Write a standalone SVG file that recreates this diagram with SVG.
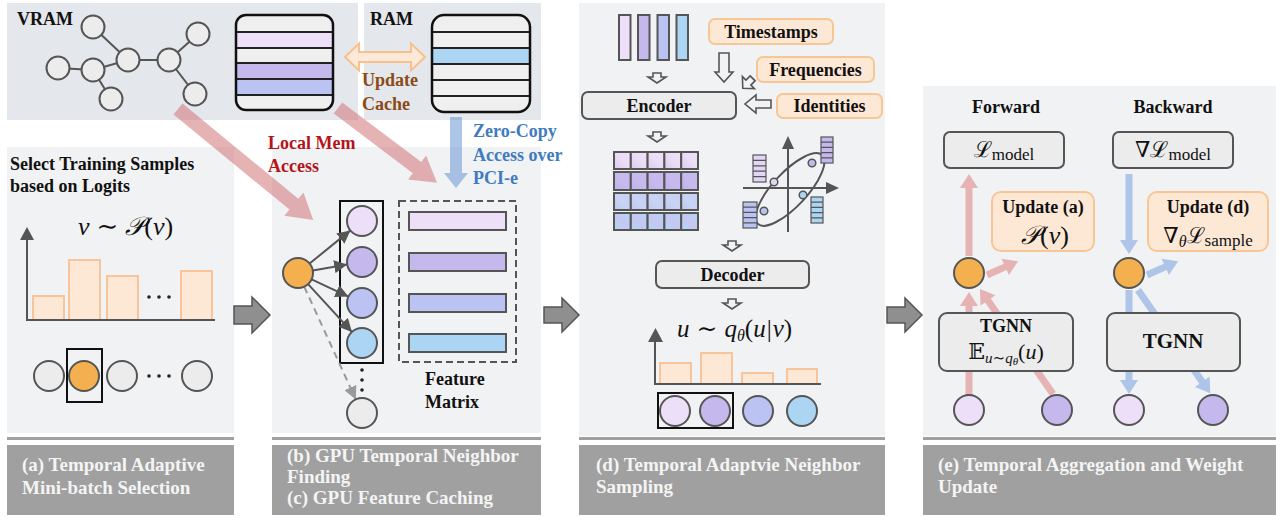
<svg xmlns="http://www.w3.org/2000/svg" width="1281" height="521" viewBox="0 0 1281 521">
<defs>
<style>
.t{font-family:"Liberation Serif","Times New Roman",serif;font-weight:bold;font-size:18px;fill:#111}
.cap{font-family:"Liberation Serif","Times New Roman",serif;font-weight:bold;font-size:19px;fill:#f4f4f4}
.m{font-family:"Liberation Serif","DejaVu Serif",serif;font-style:italic;font-size:22px;fill:#111}
.mr{font-family:"Liberation Serif","DejaVu Serif",serif;font-size:22px;fill:#111}
.nd{stroke:#555;stroke-width:2}
.box{fill:#ececec;stroke:#555;stroke-width:2}
.ob{fill:#fde8d6;stroke:#f8c594;stroke-width:2}
.bar{fill:#fde8d6;stroke:#f9c49a;stroke-width:2}
.pk{fill:#d06d71;fill-opacity:.52}
.bl{fill:#5b8bd0;fill-opacity:.5}
.pks{fill:#e6b3b5}
.bls{fill:#aec4e8}
.ha{fill:#f1f2f4;stroke:#555;stroke-width:1.6;stroke-linejoin:miter}
.panel{fill:#f1f2f4}
.mem{fill:#e4e7ec}
.capbox{fill:#a0a0a0}
.ax{stroke:#555;stroke-width:2;fill:none}
.axh{fill:#555}
.c1{fill:#ecdff7}.c2{fill:#c5b8ec}.c3{fill:#bac3f2}.c4{fill:#acd5f3}.cg{fill:#ececec}.co{fill:#f4b04f}
.ln{stroke:#222;stroke-width:2}
.vec{stroke:#555;stroke-width:1.2}
.dot{fill:#222}
</style>
<marker id="ah" viewBox="0 0 12 12" refX="12" refY="6" markerWidth="13" markerHeight="13" markerUnits="userSpaceOnUse" orient="auto"><path d="M0,0 L12,6 L0,12 Z" fill="#555"/></marker>
<marker id="ahg" viewBox="0 0 12 12" refX="12" refY="6" markerWidth="13" markerHeight="13" markerUnits="userSpaceOnUse" orient="auto"><path d="M0,0 L12,6 L0,12 Z" fill="#9a9a9a"/></marker>
<linearGradient id="g1" x1="0" y1="1" x2="1" y2="0"><stop offset="0" stop-color="#dccaf0"/><stop offset="0.5" stop-color="#eadcf6"/><stop offset="1" stop-color="#eee2f8"/></linearGradient>
<linearGradient id="g2" x1="0" y1="1" x2="1" y2="0"><stop offset="0" stop-color="#bdb3ec"/><stop offset="0.5" stop-color="#c8baee"/><stop offset="1" stop-color="#c5b9ec"/></linearGradient>
<linearGradient id="g3" x1="0" y1="1" x2="1" y2="0"><stop offset="0" stop-color="#bccaf1"/><stop offset="0.5" stop-color="#c9d3f4"/><stop offset="1" stop-color="#c3cdf2"/></linearGradient>
<linearGradient id="g4" x1="0" y1="1" x2="1" y2="0"><stop offset="0" stop-color="#acd8f5"/><stop offset="0.5" stop-color="#c6c6f2"/><stop offset="1" stop-color="#b2d6f5"/></linearGradient>
</defs>
<rect width="1281" height="521" fill="#fff"/>

<!-- panels -->
<g id="panels">
<rect class="mem" x="7" y="3" width="351" height="117"/>
<rect class="mem" x="364" y="3" width="177" height="117"/>
<rect class="panel" x="7" y="147" width="227" height="286"/>
<rect class="panel" x="272" y="147" width="269" height="286"/>
<rect class="panel" x="579" y="3" width="306" height="433"/>
<rect class="panel" x="923" y="86" width="353" height="350"/>
<rect class="capbox" x="7" y="437" width="227" height="3"/>
<rect class="capbox" x="272" y="437" width="269" height="3"/>
<rect class="capbox" x="579" y="437" width="306" height="3"/>
<rect class="capbox" x="923" y="437" width="353" height="3"/>
</g>

<!-- captions -->
<g id="caption-a"><rect class="capbox" x="7" y="445" width="227" height="70"/>
<text class="cap" x="22" y="471">(a) Temporal Adaptive</text>
<text class="cap" x="22" y="494">Mini-batch Selection</text></g>
<g id="caption-bc"><rect class="capbox" x="272" y="445" width="269" height="70"/>
<text class="cap" x="287" y="462">(b) GPU Temporal Neighbor</text>
<text class="cap" x="287" y="483">Finding</text>
<text class="cap" x="287" y="504">(c) GPU Feature Caching</text></g>
<g id="caption-d"><rect class="capbox" x="579" y="445" width="306" height="70"/>
<text class="cap" x="596" y="471">(d) Temporal Adaptvie Neighbor</text>
<text class="cap" x="596" y="493">Sampling</text></g>
<g id="caption-e"><rect class="capbox" x="923" y="445" width="353" height="70"/>
<text class="cap" x="938" y="471">(e) Temporal Aggregation and Weight</text>
<text class="cap" x="938" y="493">Update</text></g>

<!-- VRAM / RAM -->
<g id="vram">
<text class="t" x="17" y="25">VRAM</text>
<g stroke="#555" stroke-width="2">
<line x1="58" y1="68" x2="93" y2="70"/>
<line x1="93" y1="70" x2="111" y2="99"/>
<line x1="93" y1="70" x2="128" y2="60"/>
<line x1="93" y1="27" x2="128" y2="60"/>
<line x1="128" y1="60" x2="169" y2="60"/>
<line x1="169" y1="60" x2="198" y2="34"/>
<line x1="169" y1="60" x2="195" y2="94"/>
</g>
<g class="nd cg">
<circle cx="93" cy="27" r="11.5"/><circle cx="58" cy="68" r="11.5"/><circle cx="93" cy="70" r="11.5"/>
<circle cx="111" cy="99" r="11.5"/><circle cx="128" cy="60" r="11.5"/><circle cx="169" cy="60" r="11.5"/>
<circle cx="198" cy="34" r="11.5"/><circle cx="195" cy="94" r="11.5"/>
</g>
</g>

<!-- connectors -->
<g id="connectors">
<path class="pk" d="M0,-7 H150 V-15 L175,0 L150,15 V7 H0 Z" transform="translate(178,109) rotate(39.4)"/>
<path class="pk" d="M0,-7 H99 V-15 L124,0 L99,15 V7 H0 Z" transform="translate(338,108) rotate(37)"/>
<path class="bl" d="M450,117 H462 V173 H468 L456,188 L444,173 H450 Z"/>
<path d="M345,57 L359,43.5 V52 H411 V43.5 L425,57 L411,70.5 V62 H359 V70.5 Z" fill="#fde9d8" stroke="#f7c08d" stroke-width="2"/>
<path d="M234,306 H252 V297 L270,315 L252,333 V324 H234 Z" fill="#8f8f8f" stroke="#555" stroke-width="1.5"/>
<path d="M544,307 H562 V298 L579,315 L562,332 V323 H544 Z" fill="#8f8f8f" stroke="#555" stroke-width="1.5"/>
<path d="M887,307 H905 V298 L922,315 L905,332 V323 H887 Z" fill="#8f8f8f" stroke="#555" stroke-width="1.5"/>
</g>

<g id="vram-cache">
<rect x="236" y="15" width="97" height="95" rx="10" fill="#efefef"/>
<rect x="237" y="32" width="95" height="16" class="c1"/>
<rect x="237" y="63" width="95" height="16" class="c2"/>
<rect x="237" y="79" width="95" height="16" class="c3"/>
<g class="ln"><line x1="236" y1="32" x2="333" y2="32"/><line x1="236" y1="48" x2="333" y2="48"/><line x1="236" y1="63" x2="333" y2="63"/><line x1="236" y1="79" x2="333" y2="79"/><line x1="236" y1="95" x2="333" y2="95"/></g>
<rect x="236" y="15" width="97" height="95" rx="10" fill="none" stroke="#111" stroke-width="2.5"/>
</g>

<g id="ram">
<text class="t" x="370" y="25">RAM</text>
<rect x="432" y="15" width="98" height="97" rx="12" fill="#efefef"/>
<rect x="433" y="48" width="96" height="16" class="c4"/>
<g class="ln"><line x1="432" y1="32" x2="530" y2="32"/><line x1="432" y1="48" x2="530" y2="48"/><line x1="432" y1="64" x2="530" y2="64"/><line x1="432" y1="80" x2="530" y2="80"/><line x1="432" y1="96" x2="530" y2="96"/></g>
<rect x="432" y="15" width="98" height="97" rx="12" fill="none" stroke="#111" stroke-width="2.5"/>
</g>

<g id="labels">
<text class="t" x="362" y="86" style="fill:#8a4b14">Update</text>
<text class="t" x="362" y="110" style="fill:#8a4b14">Cache</text>
<text class="t" x="268" y="149" style="fill:#b4141c">Local Mem</text>
<text class="t" x="268" y="172" style="fill:#b4141c">Access</text>
<text class="t" x="473" y="137" style="fill:#3f7cbf">Zero-Copy</text>
<text class="t" x="473" y="161" style="fill:#3f7cbf">Access over</text>
<text class="t" x="473" y="184" style="fill:#3f7cbf">PCI-e</text>
</g>

<!-- panel a -->
<g id="panel-a">
<text class="t" x="10" y="170">Select Training Samples</text>
<text class="t" x="10" y="192">based on Logits</text>
<text class="m" x="78" y="235" font-size="26" style="font-size:26px">v<tspan font-style="normal" dx="7">∼</tspan><tspan dx="7">𝒫</tspan><tspan font-style="normal">(</tspan>v<tspan font-style="normal">)</tspan></text>
<rect class="bar" x="33" y="296" width="31" height="24"/>
<rect class="bar" x="69" y="260" width="31" height="60"/>
<rect class="bar" x="107" y="276" width="31" height="44"/>
<rect class="bar" x="181" y="271" width="31" height="49"/>
<circle class="dot" cx="149" cy="297" r="1.8"/><circle class="dot" cx="159" cy="297" r="1.8"/><circle class="dot" cx="169" cy="297" r="1.8"/>
<path class="ax" d="M27,238 V320 H215"/>
<path class="axh" d="M20,240 L27,227 L34,240 Z"/>
<g class="nd">
<circle class="cg" cx="49" cy="376" r="15"/>
<circle class="co" cx="84" cy="376" r="15"/>
<circle class="cg" cx="122" cy="376" r="15"/>
<circle class="cg" cx="197" cy="376" r="15"/>
</g>
<circle class="dot" cx="149" cy="376" r="1.8"/><circle class="dot" cx="159" cy="376" r="1.8"/><circle class="dot" cx="169" cy="376" r="1.8"/>
<rect x="67" y="349" width="35" height="53" fill="none" stroke="#111" stroke-width="2"/>
</g>

<!-- panel b/c -->
<g id="panel-b">
<rect x="340" y="201" width="43" height="162" fill="none" stroke="#111" stroke-width="2"/>
<g stroke="#555" stroke-width="2">
<line x1="309.6" y1="263.5" x2="350.4" y2="230.4" marker-end="url(#ah)"/>
<line x1="312.8" y1="270.5" x2="347.2" y2="264.5" marker-end="url(#ah)"/>
<line x1="311.6" y1="279.4" x2="348.4" y2="296.6" marker-end="url(#ah)"/>
<line x1="308.1" y1="284.1" x2="351.9" y2="331.9" marker-end="url(#ah)"/>
<line x1="304.2" y1="286.6" x2="355.8" y2="399.4" stroke="#9a9a9a" stroke-dasharray="7,5" marker-end="url(#ahg)"/>
</g>
<g class="nd">
<circle class="co" cx="298" cy="273" r="15"/>
<circle class="c1" cx="362" cy="221" r="15"/>
<circle class="c2" cx="362" cy="262" r="15"/>
<circle class="c3" cx="362" cy="303" r="15"/>
<circle class="c4" cx="362" cy="343" r="15"/>
<circle class="cg" cx="362" cy="413" r="15"/>
</g>
<circle class="dot" cx="362" cy="370" r="1.8"/><circle class="dot" cx="362" cy="380" r="1.8"/><circle class="dot" cx="362" cy="390" r="1.8"/>
</g>
<g id="feature-matrix">
<rect x="399" y="201" width="117" height="161" fill="none" stroke="#555" stroke-width="2" stroke-dasharray="7,4"/>
<g class="nd">
<rect class="c1" x="409" y="212" width="97" height="18"/>
<rect class="c2" x="409" y="253" width="97" height="18"/>
<rect class="c3" x="409" y="294" width="97" height="18"/>
<rect class="c4" x="409" y="334" width="97" height="18"/>
</g>
<text class="t" x="425" y="385">Feature</text>
<text class="t" x="425" y="408">Matrix</text>
</g>

<!-- panel d -->
<g id="panel-d-inputs">
<g class="nd">
<rect class="c1" x="619" y="15" width="11.5" height="45"/>
<rect class="c2" x="638" y="15" width="11.5" height="45"/>
<rect class="c3" x="657.5" y="15" width="11.5" height="45"/>
<rect class="c4" x="676.5" y="15" width="11.5" height="45"/>
</g>
<path class="ha" d="M-4,0 h8 v4 h5 l-9,6 l-9,-6 h5 z" transform="translate(657,73)"/>
</g>
<g id="timestamps"><rect class="ob" x="709" y="19" width="124" height="25" rx="6"/><text class="t" x="771" y="37.5" text-anchor="middle">Timestamps</text></g>
<g id="frequencies"><rect class="ob" x="757" y="57" width="117" height="25" rx="6"/><text class="t" x="815.5" y="75.5" text-anchor="middle">Frequencies</text></g>
<g id="identities"><rect class="ob" x="777" y="94" width="105" height="24" rx="6"/><text class="t" x="829.5" y="112" text-anchor="middle">Identities</text></g>
<g id="d-arrows">
<path class="ha" d="M719,53 H729 V72 H733 L724,82 L715,72 H719 Z"/>
<path class="ha" d="M-3.5,-8 h7 v6 h5 l-8.5,8 l-8.5,-8 h5 z" transform="translate(747,84) rotate(45)"/>
<path class="ha" d="M771,100 V108 H756 V113 L745,104 L756,95 V100 Z"/>
<path class="ha" d="M-4,0 h8 v4 h5 l-9,6 l-9,-6 h5 z" transform="translate(657,132)"/>
<path class="ha" d="M-4,0 h8 v4 h5 l-9,6 l-9,-6 h5 z" transform="translate(732,241)"/>
<path class="ha" d="M-4,0 h8 v4 h5 l-9,6 l-9,-6 h5 z" transform="translate(732,299)"/>
</g>
<g id="encoder"><rect class="box" x="582" y="92" width="154" height="27" rx="6"/><text class="t" x="659" y="111.5" text-anchor="middle">Encoder</text></g>
<g id="embedding-grid" stroke="#555" stroke-width="2">
<rect x="614" y="152" width="16.8" height="17" fill="url(#g1)"/><rect x="630.8" y="152" width="16.8" height="17" fill="url(#g1)"/><rect x="647.6" y="152" width="16.8" height="17" fill="url(#g1)"/><rect x="664.4" y="152" width="16.8" height="17" fill="url(#g1)"/><rect x="681.2" y="152" width="16.8" height="17" fill="url(#g1)"/>
<rect x="614" y="172" width="16.8" height="18" fill="url(#g2)"/><rect x="630.8" y="172" width="16.8" height="18" fill="url(#g2)"/><rect x="647.6" y="172" width="16.8" height="18" fill="url(#g2)"/><rect x="664.4" y="172" width="16.8" height="18" fill="url(#g2)"/><rect x="681.2" y="172" width="16.8" height="18" fill="url(#g2)"/>
<rect x="614" y="193" width="16.8" height="17" fill="url(#g3)"/><rect x="630.8" y="193" width="16.8" height="17" fill="url(#g3)"/><rect x="647.6" y="193" width="16.8" height="17" fill="url(#g3)"/><rect x="664.4" y="193" width="16.8" height="17" fill="url(#g3)"/><rect x="681.2" y="193" width="16.8" height="17" fill="url(#g3)"/>
<rect x="614" y="213" width="16.8" height="17" fill="url(#g4)"/><rect x="630.8" y="213" width="16.8" height="17" fill="url(#g4)"/><rect x="647.6" y="213" width="16.8" height="17" fill="url(#g4)"/><rect x="664.4" y="213" width="16.8" height="17" fill="url(#g4)"/><rect x="681.2" y="213" width="16.8" height="17" fill="url(#g4)"/>
</g>
<g id="latent-space">
<path class="ax" d="M788,232 V147 M743,188 H828"/>
<path class="axh" d="M782,149 L788,136 L794,149 Z"/>
<path class="axh" d="M826,182 L839,188 L826,194 Z"/>
<ellipse cx="790" cy="189.5" rx="47" ry="17" transform="rotate(-47 790 189.5)" fill="none" stroke="#555" stroke-width="2"/>
<g class="vec">
<rect x="753" y="155" width="13" height="27" fill="#e3d5f5"/><path d="M753,160.4 H766 M753,165.8 H766 M753,171.2 H766 M753,176.6 H766"/>
<rect x="821" y="137" width="12" height="26" fill="#c5b8ec"/><path d="M821,142.2 H833 M821,147.4 H833 M821,152.6 H833 M821,157.8 H833"/>
<rect x="743" y="202" width="14" height="26" fill="#bac3f2"/><path d="M743,207.2 H757 M743,212.4 H757 M743,217.6 H757 M743,222.8 H757"/>
<rect x="811" y="197" width="12" height="26" fill="#acd5f3"/><path d="M811,202.2 H823 M811,207.4 H823 M811,212.6 H823 M811,217.8 H823"/>
</g>
<g stroke="#555" stroke-width="1.5">
<circle cx="774" cy="182" r="3.8" fill="#e3d5f5"/><circle cx="812" cy="163" r="3.8" fill="#c5b8ec"/>
<circle cx="803" cy="195" r="3.8" fill="#acd5f3"/><circle cx="764" cy="211" r="3.8" fill="#bac3f2"/>
</g>
</g>
<g id="decoder"><rect class="box" x="656" y="261" width="153" height="27" rx="6"/><text class="t" x="732.5" y="280.5" text-anchor="middle">Decoder</text></g>
<g id="neighbor-dist">
<text class="m" x="677" y="337" style="font-size:25px">u<tspan font-style="normal" dx="7">∼</tspan><tspan dx="7">q</tspan><tspan style="font-size:16px" dy="4">θ</tspan><tspan font-style="normal" dy="-4">(</tspan>u<tspan font-style="normal" dx="1">|</tspan><tspan dx="1">v</tspan><tspan font-style="normal">)</tspan></text>
<rect class="bar" x="660" y="363" width="31" height="21"/>
<rect class="bar" x="701" y="353" width="31" height="31"/>
<rect class="bar" x="742" y="373" width="31" height="11"/>
<rect class="bar" x="787" y="369" width="30" height="15"/>
<path class="ax" d="M655,340 V384 H821"/>
<path class="axh" d="M648,342 L655.5,328 L663,342 Z"/>
<g class="nd">
<circle class="c1" cx="675" cy="411" r="15"/><circle class="c2" cx="715" cy="411" r="15"/>
<circle class="c3" cx="758" cy="411" r="15"/><circle class="c4" cx="802" cy="411" r="15"/>
</g>
<rect x="658" y="393" width="75" height="35" fill="none" stroke="#111" stroke-width="2"/>
</g>

<!-- panel e -->
<g id="panel-e-arrows">
<path class="pks" d="M0,-3.5 H68 V-9 L82,0 L68,9 V3.5 H0 Z" transform="translate(969,256) rotate(-90)"/>
<path class="pks" d="M0,-3.5 H20 V-9 L34,0 L20,9 V3.5 H0 Z" transform="translate(987,275) rotate(-24)"/>
<path class="pks" d="M0,-3.5 H89 V-9 L103,0 L89,9 V3.5 H0 Z" transform="translate(969,395) rotate(-90)"/>
<path class="pks" d="M0,-3.5 H114 V-9 L128,0 L114,9 V3.5 H0 Z" transform="translate(1053,394) rotate(-124.8)"/>
<path class="bls" d="M0,-3.5 H66 V-9 L80,0 L66,9 V3.5 H0 Z" transform="translate(1129,174) rotate(90)"/>
<path class="bls" d="M0,-3.5 H20 V-9 L34,0 L20,9 V3.5 H0 Z" transform="translate(1147,275) rotate(-24)"/>
<path class="bls" d="M0,-3.5 H90 V-9 L104,0 L90,9 V3.5 H0 Z" transform="translate(1129,290) rotate(90)"/>
<path class="bls" d="M0,-3.5 H112 V-9 L126,0 L112,9 V3.5 H0 Z" transform="translate(1138,290) rotate(55)"/>
</g>
<g id="forward">
<text class="t" x="1006" y="113" text-anchor="middle">Forward</text>
<rect class="box" x="944" y="132" width="120" height="36" rx="6"/>
<text class="mr" x="1004" y="157" text-anchor="middle">ℒ<tspan font-size="17" dy="3">model</tspan></text>
<rect class="ob" x="992" y="192" width="102" height="59" rx="9"/>
<text class="t" x="1043" y="213" text-anchor="middle">Update (a)</text>
<text class="m" x="1045" y="244" text-anchor="middle" style="font-size:26px">𝒫<tspan font-style="normal">(</tspan>v<tspan font-style="normal">)</tspan></text>
<circle class="nd co" cx="969" cy="273" r="15"/>
<rect class="box" x="939" y="313" width="134" height="58" rx="8"/>
<text class="t" x="1006" y="332" text-anchor="middle">TGNN</text>
<text class="mr" x="1006" y="359" text-anchor="middle" font-size="24">𝔼<tspan font-size="15" font-style="italic" dy="4">u∼q</tspan><tspan font-size="11" font-style="italic" dy="2">θ</tspan><tspan dy="-6">(</tspan><tspan font-style="italic">u</tspan>)</text>
<circle class="nd c1" cx="969" cy="410" r="15"/>
<circle class="nd c2" cx="1057" cy="410" r="15"/>
</g>
<g id="backward">
<text class="t" x="1173" y="113" text-anchor="middle">Backward</text>
<rect class="box" x="1113" y="132" width="120" height="36" rx="6"/>
<text class="mr" x="1173" y="157" text-anchor="middle">∇ℒ<tspan font-size="17" dy="3">model</tspan></text>
<rect class="ob" x="1148" y="192" width="120" height="59" rx="9"/>
<text class="t" x="1208" y="213" text-anchor="middle">Update (d)</text>
<text class="mr" x="1208" y="243" text-anchor="middle" font-size="24">∇<tspan font-size="16" font-style="italic" dy="4">θ</tspan><tspan dy="-4">ℒ</tspan><tspan font-size="17" dy="3">sample</tspan></text>
<circle class="nd co" cx="1129" cy="273" r="15"/>
<rect class="box" x="1107" y="313" width="133" height="58" rx="8"/>
<text class="t" x="1173" y="348" text-anchor="middle" style="font-size:21px">TGNN</text>
<circle class="nd c1" cx="1129" cy="410" r="15"/>
<circle class="nd c2" cx="1213" cy="410" r="15"/>
</g>
</svg>
